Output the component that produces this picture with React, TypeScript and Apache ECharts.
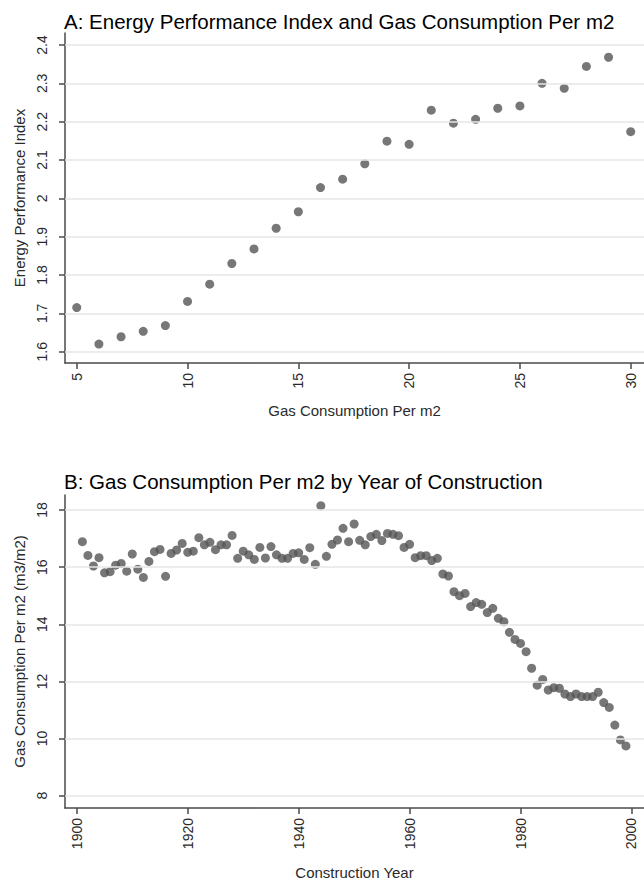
import React, { useEffect, useRef } from "react";
import * as echarts from "echarts";

// Panel A: Energy Performance Index vs Gas Consumption Per m2
const gasPerM2A = [5, 6, 7, 8, 9, 10, 11, 12, 13, 14, 15, 16, 17, 18, 19, 20, 21, 22, 23, 24, 25, 26, 27, 28, 29, 30];
const epiA = [
  1.715, 1.62, 1.639, 1.653, 1.668, 1.731, 1.776, 1.83, 1.868, 1.922, 1.965, 2.028, 2.05,
  2.09, 2.149, 2.141, 2.23, 2.196, 2.206, 2.235, 2.241, 2.3, 2.287, 2.344, 2.368, 2.174,
];
const xTicksA = [5, 10, 15, 20, 25, 30];
const yTicksA = [1.6, 1.7, 1.8, 1.9, 2, 2.1, 2.2, 2.3, 2.4];

// Panel B: Gas Consumption Per m2 by Year of Construction
const yearsB = [
  1901, 1902, 1903, 1904, 1905, 1906, 1907, 1908, 1909, 1910,
  1911, 1912, 1913, 1914, 1915, 1916, 1917, 1918, 1919, 1920,
  1921, 1922, 1923, 1924, 1925, 1926, 1927, 1928, 1929, 1930,
  1931, 1932, 1933, 1934, 1935, 1936, 1937, 1938, 1939, 1940,
  1941, 1942, 1943, 1944, 1945, 1946, 1947, 1948, 1949, 1950,
  1951, 1952, 1953, 1954, 1955, 1956, 1957, 1958, 1959, 1960,
  1961, 1962, 1963, 1964, 1965, 1966, 1967, 1968, 1969, 1970,
  1971, 1972, 1973, 1974, 1975, 1976, 1977, 1978, 1979, 1980,
  1981, 1982, 1983, 1984, 1985, 1986, 1987, 1988, 1989, 1990,
  1991, 1992, 1993, 1994, 1995, 1996, 1997, 1998, 1999,
];
const gasB = [
  16.89, 16.41, 16.04, 16.33, 15.8, 15.84, 16.07, 16.13, 15.86, 16.46,
  15.93, 15.64, 16.2, 16.54, 16.62, 15.68, 16.48, 16.6, 16.83, 16.52,
  16.56, 17.03, 16.78, 16.87, 16.61, 16.78, 16.78, 17.11, 16.31, 16.56,
  16.43, 16.27, 16.69, 16.32, 16.72, 16.43, 16.31, 16.31, 16.48, 16.5,
  16.27, 16.68, 16.1, 18.15, 16.38, 16.8, 16.95, 17.36, 16.89, 17.51,
  16.94, 16.78, 17.07, 17.15, 16.93, 17.18, 17.15, 17.1, 16.69, 16.8,
  16.33, 16.4, 16.4, 16.23, 16.31, 15.76, 15.69, 15.14, 15.0, 15.08,
  14.62, 14.76, 14.7, 14.41, 14.56, 14.21, 14.09, 13.72, 13.47, 13.33,
  13.04, 12.46, 11.87, 12.07, 11.7, 11.78, 11.76, 11.56, 11.47, 11.56,
  11.47, 11.47, 11.47, 11.62, 11.26, 11.09, 10.47, 9.95, 9.74,
];
const xTicksB = [1900, 1920, 1940, 1960, 1980, 2000];
const yTicksB = [8, 10, 12, 14, 16, 18];

const FONT = "'Liberation Sans', Arial, Helvetica, sans-serif";
const AXIS_COLOR = "#4a4a4a";
const TEXT_COLOR = "#2a2a2a";
const GRID_COLOR = "#e6e6e6";
const DOT_COLOR = "#555555";

const plain = (v: number) => String(v);

function xAxisCfg(gridIndex: number, min: number, max: number, ticks: number[], name: string, nameGap: number) {
  return {
    type: "value",
    gridIndex,
    min,
    max,
    name,
    nameLocation: "middle",
    nameGap,
    nameTextStyle: { color: TEXT_COLOR, fontFamily: FONT, fontSize: 15 },
    axisLine: { show: true, onZero: false, lineStyle: { color: AXIS_COLOR, width: 1.5 } },
    axisTick: { show: true, length: 6, customValues: ticks, lineStyle: { color: AXIS_COLOR, width: 1.5 } },
    axisLabel: {
      customValues: ticks,
      formatter: plain,
      rotate: 90,
      margin: 10,
      color: TEXT_COLOR,
      fontFamily: FONT,
      fontSize: 14,
    },
    splitLine: { show: false },
  };
}

function yAxisCfg(gridIndex: number, min: number, max: number, ticks: number[], name: string, nameGap: number) {
  return {
    type: "value",
    gridIndex,
    min,
    max,
    name,
    nameLocation: "middle",
    nameGap,
    nameRotate: 90,
    nameTextStyle: { color: TEXT_COLOR, fontFamily: FONT, fontSize: 15 },
    axisLine: { show: true, onZero: false, lineStyle: { color: AXIS_COLOR, width: 1.5 } },
    axisTick: { show: true, length: 6, customValues: ticks, lineStyle: { color: AXIS_COLOR, width: 1.5 } },
    axisLabel: {
      customValues: ticks,
      formatter: plain,
      rotate: 90,
      margin: 16,
      color: TEXT_COLOR,
      fontFamily: FONT,
      fontSize: 14,
    },
    splitLine: { show: false },
  };
}

function gridLines(ticks: number[]) {
  return {
    silent: true,
    symbol: "none",
    label: { show: false },
    lineStyle: { color: GRID_COLOR, width: 1.5, type: "solid" },
    data: ticks.map((t) => ({ yAxis: t })),
  };
}

export default function App() {
  const ref = useRef<HTMLDivElement>(null);

  useEffect(() => {
    if (!ref.current) return;
    const chart = echarts.init(ref.current, undefined, { renderer: "svg" });

    const option = {
      animation: false,
      backgroundColor: "#ffffff",
      title: [
        {
          text: "A: Energy Performance Index and Gas Consumption Per m2",
          left: 59,
          top: 6,
          textStyle: { color: "#000", fontFamily: FONT, fontSize: 20.5, fontWeight: "normal" },
        },
        {
          text: "B: Gas Consumption Per m2 by Year of Construction",
          left: 59,
          top: 466,
          textStyle: { color: "#000", fontFamily: FONT, fontSize: 20.5, fontWeight: "normal" },
        },
      ],
      grid: [
        { left: 65, top: 33, width: 588, height: 330 },
        { left: 65, top: 495, width: 587, height: 313 },
      ],
      xAxis: [
        xAxisCfg(0, 4.47, 30.6, xTicksA, "Gas Consumption Per m2", 40),
        xAxisCfg(1, 1897.87, 2002.26, xTicksB, "Construction Year", 57),
      ],
      yAxis: [
        yAxisCfg(0, 1.5705, 2.4313, yTicksA, "Energy Performance Index", 37),
        yAxisCfg(1, 7.569, 18.525, yTicksB, "Gas Consumption Per m2 (m3/m2)", 37),
      ],
      series: [
        {
          type: "scatter",
          xAxisIndex: 0,
          yAxisIndex: 0,
          symbol: "circle",
          symbolSize: 9,
          clip: false,
          itemStyle: { color: DOT_COLOR },
          data: gasPerM2A.map((x, i) => [x, epiA[i]]),
          markLine: gridLines(yTicksA),
          z: 3,
        },
        {
          type: "scatter",
          xAxisIndex: 1,
          yAxisIndex: 1,
          symbol: "circle",
          symbolSize: 9,
          clip: false,
          itemStyle: { color: DOT_COLOR },
          data: yearsB.map((x, i) => [x, gasB[i]]),
          markLine: gridLines(yTicksB),
          z: 3,
        },
      ],
    };

    chart.setOption(option as any);
    return () => chart.dispose();
  }, []);

  return (
    <div
      ref={ref}
      style={{ position: "fixed", left: 0, top: 0, width: 644, height: 884, overflow: "hidden" }}
    />
  );
}
